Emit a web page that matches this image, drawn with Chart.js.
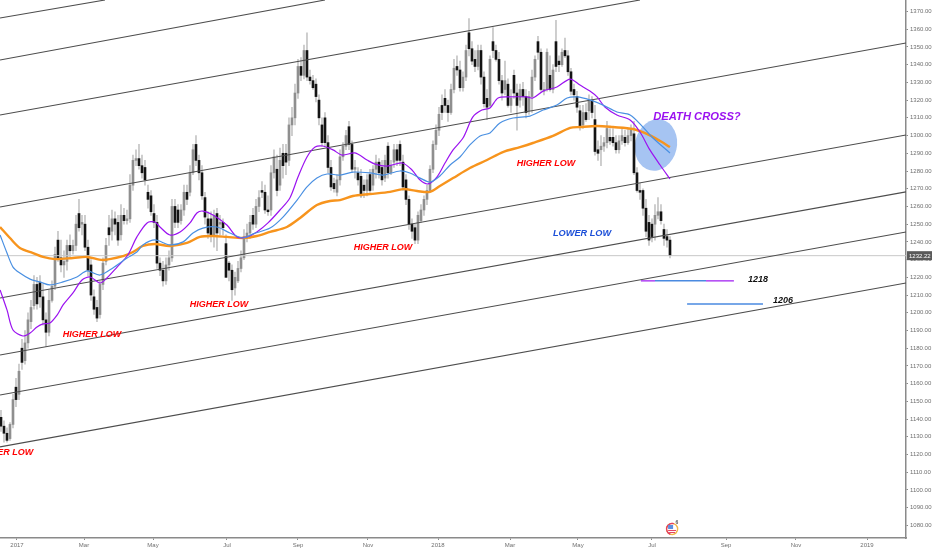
<!DOCTYPE html>
<html>
<head>
<meta charset="utf-8">
<title>Gold daily chart</title>
<script src="https://cdn.jsdelivr.net/npm/chart.js@4/dist/chart.umd.min.js"></script>
<style>
    html, body { margin: 0; padding: 0; background: #ffffff; }
    canvas { display: block; }
</style>
</head>
<body>
<canvas id="priceChart" width="932" height="550"></canvas>
<script>
// Candles, one per bar index
const opens = [
    1141,1136,1132,1129,1137,1158,1154,1180,1173,1183,
    1195,1204,1216,1217,1209,1196,1189,1207,1215,1241,
    1231,1227,1229,1238,1235,1238,1256,1250,1250,1237,
    1227,1209,1203,1199,1216,1229,1248,1246,1253,1251,
    1244,1255,1252,1253,1272,1286,1287,1283,1282,1268,
    1266,1256,1251,1228,1224,1218,1227,1231,1260,1258,
    1252,1258,1268,1268,1279,1295,1286,1279,1265,1253,
    1253,1243,1256,1250,1251,1239,1228,1224,1214,1218,
    1225,1231,1243,1245,1255,1250,1260,1269,1268,1258,
    1258,1279,1281,1272,1290,1290,1286,1306,1310,1324,
    1339,1334,1348,1333,1331,1329,1320,1306,1310,1296,
    1282,1273,1268,1275,1288,1294,1305,1295,1281,1279,
    1277,1272,1269,1278,1272,1281,1285,1282,1276,1294,
    1279,1285,1292,1295,1285,1275,1264,1250,1248,1241,
    1252,1258,1264,1269,1281,1295,1303,1317,1321,1317,
    1313,1326,1339,1337,1327,1333,1358,1349,1343,1339,
    1348,1333,1321,1317,1353,1348,1343,1331,1326,1329,
    1317,1334,1324,1320,1326,1322,1314,1322,1333,1353,
    1347,1325,1326,1334,1326,1353,1342,1340,1348,1345,
    1336,1326,1322,1314,1306,1313,1314,1320,1309,1292,
    1292,1294,1296,1299,1299,1296,1292,1297,1299,1296,
    1300,1301,1279,1269,1269,1259,1251,1250,1250,1255,
    1257,1247,1243,1241
];
const closes = [
    1136,1132,1128,1137,1151,1151,1167,1172,1183,1196,
    1203,1216,1205,1209,1196,1189,1207,1215,1233,1231,
    1227,1229,1238,1235,1238,1250,1248,1251,1237,1224,
    1210,1202,1197,1216,1228,1238,1244,1253,1250,1241,
    1255,1252,1253,1272,1286,1287,1283,1279,1275,1264,
    1257,1251,1228,1224,1218,1227,1231,1260,1251,1251,
    1258,1268,1264,1279,1292,1286,1279,1266,1254,1245,
    1243,1255,1245,1251,1248,1220,1224,1213,1220,1225,
    1231,1243,1245,1251,1250,1260,1265,1268,1258,1257,
    1279,1288,1269,1286,1283,1285,1306,1310,1324,1339,
    1334,1348,1333,1331,1327,1322,1310,1296,1296,1282,
    1271,1270,1275,1288,1294,1300,1295,1281,1282,1275,
    1266,1269,1275,1269,1281,1285,1279,1275,1286,1279,
    1283,1292,1286,1286,1271,1264,1250,1246,1241,1255,
    1258,1264,1269,1281,1295,1303,1312,1313,1317,1313,
    1326,1338,1337,1327,1333,1348,1349,1342,1339,1348,
    1333,1318,1316,1343,1348,1343,1331,1324,1331,1317,
    1321,1324,1317,1326,1322,1313,1322,1333,1343,1347,
    1326,1326,1347,1326,1337,1339,1340,1347,1345,1336,
    1325,1323,1316,1305,1313,1309,1320,1313,1291,1290,
    1294,1296,1304,1297,1296,1292,1297,1300,1296,1300,
    1303,1279,1269,1268,1259,1246,1241,1243,1255,1257,
    1252,1242,1241,1232.22
];
const highs = [
    1145,1139,1135,1138,1154,1163,1171,1185,1190,1200,
    1207,1221,1220,1221,1216,1200,1213,1218,1237,1246,
    1241,1235,1241,1244,1241,1255,1264,1255,1255,1241,
    1230,1213,1207,1218,1231,1242,1255,1258,1257,1255,
    1261,1259,1258,1278,1289,1292,1295,1289,1286,1272,
    1269,1261,1255,1231,1229,1231,1235,1264,1264,1261,
    1261,1272,1272,1283,1295,1300,1289,1283,1268,1257,
    1257,1258,1259,1255,1253,1244,1229,1227,1223,1229,
    1235,1247,1250,1255,1259,1264,1269,1274,1272,1266,
    1283,1292,1289,1293,1295,1295,1310,1316,1329,1343,
    1344,1351,1358,1337,1334,1332,1323,1310,1313,1300,
    1286,1276,1278,1292,1296,1303,1308,1297,1286,1282,
    1281,1275,1278,1281,1283,1289,1287,1286,1289,1296,
    1286,1295,1295,1297,1289,1278,1266,1253,1250,1257,
    1261,1266,1272,1283,1297,1306,1316,1323,1326,1320,
    1329,1343,1345,1342,1336,1351,1366,1353,1348,1351,
    1351,1336,1326,1345,1361,1351,1347,1334,1342,1332,
    1326,1337,1329,1329,1330,1326,1325,1337,1345,1356,
    1349,1330,1349,1345,1340,1365,1345,1349,1355,1348,
    1338,1329,1325,1317,1317,1318,1323,1322,1317,1297,
    1300,1299,1308,1304,1304,1300,1300,1304,1303,1304,
    1306,1308,1282,1273,1270,1264,1255,1253,1261,1265,
    1261,1250,1247,1243
];
const lows = [
    1133,1127,1127,1128,1135,1147,1151,1168,1171,1180,
    1191,1202,1202,1203,1193,1181,1187,1206,1213,1229,
    1223,1220,1224,1231,1233,1235,1246,1244,1235,1221,
    1207,1199,1195,1197,1213,1227,1238,1241,1244,1238,
    1241,1250,1250,1251,1269,1283,1281,1276,1272,1259,
    1255,1248,1225,1221,1215,1216,1224,1229,1248,1248,
    1250,1255,1261,1266,1278,1283,1275,1264,1250,1242,
    1240,1237,1235,1244,1244,1220,1218,1207,1210,1217,
    1223,1230,1240,1242,1247,1248,1257,1265,1256,1255,
    1255,1276,1266,1269,1276,1278,1283,1300,1306,1321,
    1331,1332,1331,1329,1326,1319,1306,1294,1294,1279,
    1269,1268,1266,1272,1286,1292,1292,1279,1276,1272,
    1265,1265,1266,1268,1269,1276,1276,1272,1274,1276,
    1278,1282,1283,1283,1269,1261,1247,1242,1239,1239,
    1251,1255,1261,1268,1279,1292,1300,1309,1313,1308,
    1312,1324,1334,1325,1325,1331,1345,1340,1336,1337,
    1329,1316,1309,1316,1344,1342,1329,1320,1323,1316,
    1313,1321,1303,1316,1317,1310,1312,1313,1331,1343,
    1325,1323,1325,1325,1324,1336,1336,1339,1344,1334,
    1323,1320,1313,1303,1304,1308,1309,1310,1289,1286,
    1283,1291,1293,1295,1294,1290,1290,1295,1294,1295,
    1297,1278,1268,1264,1255,1243,1238,1240,1241,1253,
    1250,1238,1237,1231
];

// Moving averages
const purpleBars = [-0.3,2,4,7.3,9.7,12,14,16.3,18.7,20.7,24,27,29.7,33,35.3,38.7,42.3,45.3,48.7,51.3,53,56.3,59.7,63,65.3,67.3,70.7,75.3,78.7,82,85.3,89,93,96.3,99,102,104.7,107.3,110.7,113.7,118,122,124.7,128.7,133.7,137,139.7,142.3,145.3,148,150.7,154,157.3,160.3,163,165.7,169.7,175.3,177.3,180.7,185.3,189.7,193,196.3,198.7,201.3,205.3,209.7,213,216.3,219.7,223];
const purplePrices = [1212.9,1201.6,1190.3,1186.9,1188.6,1192,1193.7,1194.2,1198.7,1204.4,1211.2,1218.5,1220.2,1216.8,1219.6,1225.8,1232.6,1242.8,1250.7,1251.2,1248.4,1243.9,1245.6,1250.7,1256.3,1257.4,1255.2,1249.5,1242.8,1242.8,1245.6,1250.7,1258,1264.8,1276.6,1287.9,1293.5,1294.1,1291.9,1289,1290.2,1286.2,1283.9,1282.8,1284.5,1280.6,1274.9,1272.7,1276.6,1284.5,1291.9,1298.6,1310.5,1314.4,1315.6,1321.2,1321.8,1321.8,1321.2,1325.1,1327.4,1331.9,1328.5,1325.1,1321.8,1316.1,1311.6,1308.8,1302,1291.9,1283.4,1275.5];
const blueBars = [-0.3,2,4,6.3,9.7,13,16.3,20.7,25.3,28.7,33,37.3,42,45.3,47.3,51.3,56.3,60.7,64,67.3,72,76.3,80.7,84,89.7,94,98.7,102,105.3,108.7,113,117.3,123,127.3,133,136.3,139.7,143,146.3,149.7,153,156.3,159.7,163,166.3,170.7,176.3,180.7,185.3,188.7,192,196.3,200.7,205.3,209.7,214,217.3,223];
const bluePrices = [1243.9,1233.7,1225.8,1222.4,1219,1217.4,1215.7,1217.4,1220.2,1223.6,1221.3,1225.3,1230.9,1234.3,1238.3,1241.1,1238.3,1240,1245,1247.8,1248.4,1245,1242.2,1244.5,1247.8,1254,1263.6,1271,1276,1278.3,1277.7,1279.4,1278.9,1277.7,1280,1278.9,1276,1273.8,1277.2,1283.4,1287.9,1294.7,1299.8,1301.5,1307.1,1309.9,1311,1314.4,1317.2,1321.2,1321.8,1320.1,1317.2,1313.3,1311.6,1304.8,1298.6,1290.2];
const orangeBars = [-0.3,3,6.3,10.7,14,18,24,28.7,34,40.7,44,47.3,51.3,56.3,62,66.3,70.7,75.3,80.7,85.3,89.7,95.3,99.7,105.3,109.7,113,117.3,123,129.7,134,138.7,143,146.3,150.7,156.3,162,167.3,173,177.3,184,189.7,193,198.7,204,210.7,215.3,219.7,223];
const orangePrices = [1248.4,1242.2,1236.6,1233.7,1231.5,1230.3,1230.9,1231.5,1229.8,1232,1234.3,1237.7,1238.8,1237.7,1239.4,1242.8,1243.3,1242.8,1242.2,1243.3,1245.6,1248.4,1253.5,1260.8,1263.1,1263.6,1265.9,1267,1268.2,1269.8,1268.7,1268.2,1271.5,1276,1281.7,1286.2,1290.7,1293.5,1295.8,1299.8,1304.3,1304.8,1305.4,1304.8,1303.7,1300.9,1296.9,1293.5];

// Rising channel lines: price at the left edge, then where each line ends
const channelStartPrices = [1124.3,1153.6,1176.2,1208.3,1259.7,1311.6,1342.6,1366.3];
const channelEndBars = [301.67,301.67,301.67,301.67,301.67,213,108,34.67];
const channelEndPrices = [1216.8,1245.6,1268.2,1300.3,1352.2,1376.5,1376.5,1376.5];

const lastPrice = 1232.22;

// Target lines drawn on the chart
const target1218Bars = [213.3,218,235,244.3];
const target1218Prices = [1218,1218,1218,1218];
const target1206Bars = [228.7,254];
const target1206Prices = [1205,1205];

// Axis ticks
const priceTicks = [1370,1360,1350,1340,1330,1320,1310,1300,1290,1280,1270,1260,1250,1240,1230,1220,1210,1200,1190,1180,1170,1160,1150,1140,1130,1120,1110,1100,1090,1080];
const timeTickBars = [5.33,27.67,50.67,75.33,99,122.33,145.67,169.67,192.33,217,241.67,265,288.67];
const timeTickLabels = ['2017','Mar','May','Jul','Sep','Nov','2018','Mar','May','Jul','Sep','Nov','2019'];

// Notes written on the chart
const noteTexts = ['HIGHER LOW','HIGHER LOW','HIGHER LOW','HIGHER LOW','HIGHER LOW','LOWER LOW','DEATH CROSS?','1218','1206'];
const noteBars = [1,30.3,72.7,127.3,181.7,193.7,232,252.3,260.7];
const notePrices = [1120.9,1188,1204.4,1236.6,1284,1245,1310.5,1218.5,1207];
const noteColors = ['#ff0000','#ff0000','#ff0000','#ff0000','#ff0000','#1c4fd8','#9b12f0','#111111','#111111'];
const noteSizes = [9,9,9,9,9,9.2,11.2,9,9];

const candleBars = opens.map((_, i) => i);

const DOWN_COLOR = '#141414';
const UP_COLOR = '#8f8f8f';
const WICK_COLOR = '#c4c4c4';

// Ellipse, notes and price tag are not part of Chart.js, so draw them with a small plugin
const annotationPlugin = {
    id: 'annotations',
    beforeDatasetsDraw(chart) {
        const { ctx, scales } = chart;
        ctx.save();
        ctx.fillStyle = '#a6c4f2';
        ctx.beginPath();
        ctx.ellipse(scales.x.getPixelForValue(218.3), scales.y.getPixelForValue(1294.7), 21, 26, 13 * Math.PI / 180, 0, Math.PI * 2);
        ctx.fill();
        ctx.restore();
    },
    afterDraw(chart) {
        const { ctx, scales } = chart;
        ctx.save();
        ctx.textAlign = 'center';
        ctx.textBaseline = 'middle';
        noteTexts.forEach((text, i) => {
            ctx.font = `italic bold ${noteSizes[i]}px "Liberation Sans"`;
            ctx.fillStyle = noteColors[i];
            ctx.fillText(text, scales.x.getPixelForValue(noteBars[i]), scales.y.getPixelForValue(notePrices[i]));
        });

        // Last price tag on the axis
        const tagY = scales.y.getPixelForValue(lastPrice);
        ctx.fillStyle = '#5a5a5a';
        ctx.fillRect(chart.chartArea.right + 1, tagY - 4.5, 26, 9);
        ctx.font = '6px "Liberation Sans"';
        ctx.fillStyle = '#ffffff';
        ctx.textAlign = 'left';
        ctx.fillText(lastPrice.toFixed(2), chart.chartArea.right + 3, tagY + 0.5);

        // Small flag event marker
        const cx = scales.x.getPixelForValue(223.7);
        const cy = scales.y.getPixelForValue(1078);
        ctx.lineWidth = 1.5;
        ctx.strokeStyle = '#f2b84b';
        ctx.beginPath();
        ctx.arc(cx, cy, 5.5, 0, Math.PI * 2);
        ctx.stroke();
        ctx.strokeStyle = '#e4405f';
        ctx.beginPath();
        ctx.arc(cx, cy, 5.5, Math.PI * 0.6, Math.PI * 1.6);
        ctx.stroke();
        ctx.fillStyle = '#ffffff';
        ctx.beginPath();
        ctx.arc(cx, cy, 4.5, 0, Math.PI * 2);
        ctx.fill();
        ctx.fillStyle = '#5b8fe0';
        ctx.fillRect(cx - 4, cy - 4, 5, 4);
        ctx.fillStyle = '#e4405f';
        ctx.fillRect(cx - 4, cy + 1, 8, 1);
        ctx.fillRect(cx - 3, cy + 3, 6, 1);
        ctx.font = 'bold 5px "Liberation Sans"';
        ctx.fillStyle = '#555555';
        ctx.fillText('6', cx + 3.5, cy - 6);
        ctx.restore();
    }
};

function lineDataset(bars, prices, color, width, order, tension) {
    return {
        type: 'line',
        data: bars.map((bar, i) => ({ x: bar, y: prices[i] })),
        borderColor: color,
        borderWidth: width,
        pointRadius: 0,
        tension: tension,
        order: order
    };
}

const channelDatasets = channelStartPrices.map((price, i) =>
    lineDataset([-0.33, channelEndBars[i]], [price, channelEndPrices[i]], '#4d4d4d', 1.1, 3, 0)
);

new Chart(document.getElementById('priceChart'), {
    type: 'bar',
    data: {
        datasets: [
            {
                // Wicks
                data: candleBars.map(i => ({ x: i, y: [lows[i], highs[i]] })),
                backgroundColor: WICK_COLOR,
                barThickness: 1,
                grouped: false,
                order: 6
            },
            {
                // Bodies
                data: candleBars.map(i => ({ x: i, y: [opens[i], closes[i]] })),
                backgroundColor: candleBars.map(i => closes[i] < opens[i] ? DOWN_COLOR : UP_COLOR),
                barThickness: 2,
                grouped: false,
                order: 5
            },
            ...channelDatasets,
            lineDataset([-0.33, 301.67], [lastPrice, lastPrice], '#c8c8c8', 1, 4, 0),
            lineDataset(target1218Bars.slice(0, 2), target1218Prices.slice(0, 2), '#9b12f0', 1.2, 2, 0),
            lineDataset(target1218Bars.slice(2), target1218Prices.slice(2), '#9b12f0', 1.2, 2, 0),
            lineDataset(target1218Bars.slice(1, 3), target1218Prices.slice(1, 3), '#4a8ae0', 1.5, 2, 0),
            lineDataset(target1206Bars, target1206Prices, '#4a8ae0', 1.5, 2, 0),
            lineDataset(orangeBars, orangePrices, '#f7941d', 2.4, 1, 0.3),
            lineDataset(blueBars, bluePrices, '#4a90e2', 1.2, 0, 0.3),
            lineDataset(purpleBars, purplePrices, '#9b12f0', 1.2, 0, 0.3)
        ]
    },
    options: {
        responsive: false,
        animation: false,
        layout: { padding: 0 },
        plugins: {
            legend: { display: false },
            tooltip: { enabled: false }
        },
        scales: {
            x: {
                type: 'linear',
                offset: false,
                min: -0.33,
                max: 301.67,
                afterBuildTicks: scale => {
                    scale.ticks = timeTickBars.map(value => ({ value }));
                },
                afterFit: scale => {
                    scale.height = 12;
                    scale.paddingLeft = 0;
                    scale.paddingRight = 0;
                },
                grid: { offset: false, drawOnChartArea: false, tickLength: 2, color: '#8a8a8a' },
                border: { color: '#8a8a8a', width: 1.5 },
                ticks: {
                    autoSkip: false,
                    maxRotation: 0,
                    padding: 2,
                    color: '#6f6f6f',
                    font: { size: 6, family: 'Liberation Sans' },
                    callback: (value, index) => timeTickLabels[index]
                }
            },
            y: {
                position: 'right',
                min: 1072.9,
                max: 1376.5,
                afterBuildTicks: scale => {
                    scale.ticks = priceTicks.map(value => ({ value }));
                },
                afterFit: scale => {
                    scale.width = 26;
                    scale.paddingTop = 0;
                    scale.paddingBottom = 0;
                },
                grid: { drawOnChartArea: false, tickLength: 2, color: '#8a8a8a' },
                border: { color: '#8a8a8a', width: 1.5 },
                ticks: {
                    autoSkip: false,
                    padding: 2,
                    color: '#6f6f6f',
                    font: { size: 6, family: 'Liberation Sans' },
                    callback: value => value.toFixed(2)
                }
            }
        }
    },
    plugins: [annotationPlugin]
});
</script>
</body>
</html>
